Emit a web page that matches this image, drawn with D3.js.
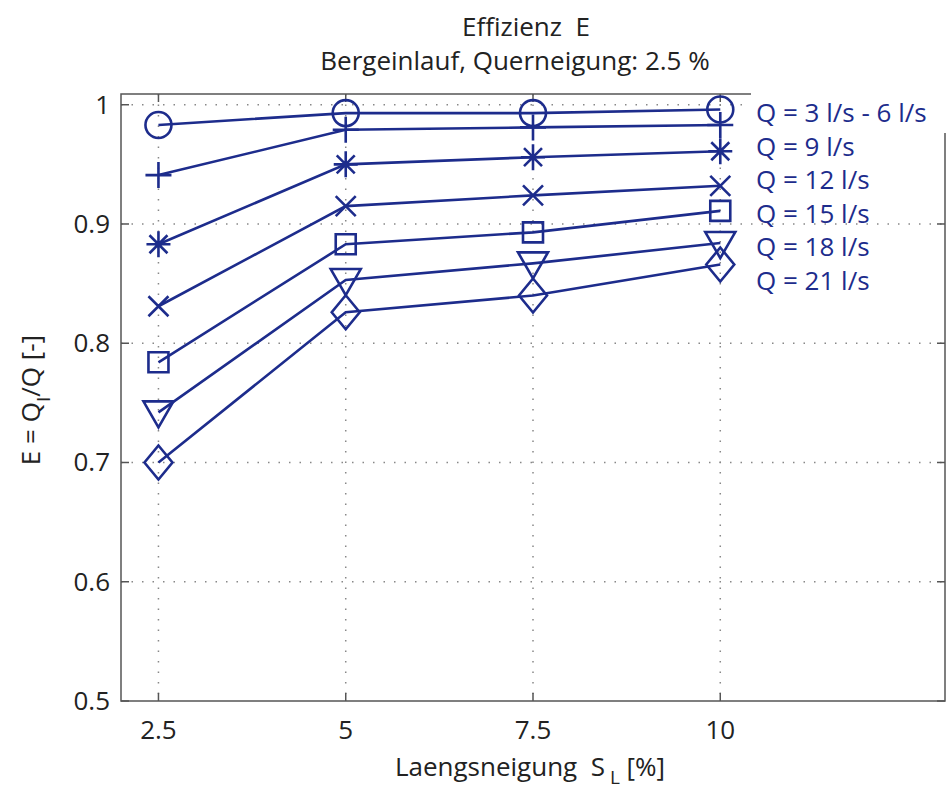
<!DOCTYPE html>
<html>
<head>
<meta charset="utf-8">
<script src="https://cdn.jsdelivr.net/npm/d3@7"></script>
<style>
  body { margin: 0; background: #fff; }
  text { font-family: "Open Sans", "Noto Sans", sans-serif; }
</style>
</head>
<body>
<script>
// data
var slopes = [2.5, 5, 7.5, 10];
var xTicks = [2.5, 5, 7.5, 10];
var yTicks = [0.5, 0.6, 0.7, 0.8, 0.9, 1];

var q3to6 = [0.983, 0.993, 0.993, 0.996];
var q3to6b = [0.941, 0.979, 0.981, 0.983];
var q9 = [0.883, 0.950, 0.956, 0.961];
var q12 = [0.831, 0.915, 0.924, 0.932];
var q15 = [0.784, 0.883, 0.893, 0.911];
var q18 = [0.742, 0.853, 0.867, 0.884];
var q21 = [0.700, 0.826, 0.840, 0.866];

var seriesMarkers = ["circle", "plus", "star", "cross", "square", "triangle", "diamond"];
var seriesValues = [q3to6, q3to6b, q9, q12, q15, q18, q21];
var labels = ["Q = 3 l/s - 6 l/s", "Q = 9 l/s", "Q = 12 l/s", "Q = 15 l/s", "Q = 18 l/s", "Q = 21 l/s"];

var W = 952, H = 792;
var pL = 121, pR = 945, pT = 94, pB = 701;
var blue = "#1d2c8c";

var svg = d3.select("body").append("svg")
    .attr("width", W)
    .attr("height", H);

var x = d3.scaleLinear().domain([2, 13]).range([pL, pR]);
var y = d3.scaleLinear().domain([0.5, 1.009]).range([pB, pT]);

// grid
svg.append("g").selectAll("line")
    .data(xTicks).enter().append("line")
    .attr("x1", d => x(d)).attr("x2", d => x(d))
    .attr("y1", pT).attr("y2", pB)
    .attr("stroke", "#888").attr("stroke-width", 1.5)
    .attr("stroke-dasharray", "1.5,9");
svg.append("g").selectAll("line")
    .data(yTicks.slice(1)).enter().append("line")
    .attr("x1", pL).attr("x2", pR)
    .attr("y1", d => y(d)).attr("y2", d => y(d))
    .attr("stroke", "#888").attr("stroke-width", 1.5)
    .attr("stroke-dasharray", "1.5,9");

// frame
svg.append("rect")
    .attr("x", pL).attr("y", pT)
    .attr("width", pR - pL).attr("height", pB - pT)
    .attr("fill", "none").attr("stroke", "#555").attr("stroke-width", 1.5);

// ticks inside, on all four sides
var tickLen = 8;
var tk = svg.append("g").attr("stroke", "#555").attr("stroke-width", 1.5);
xTicks.forEach(function(t) {
    tk.append("line").attr("x1", x(t)).attr("x2", x(t)).attr("y1", pB).attr("y2", pB - tickLen);
    tk.append("line").attr("x1", x(t)).attr("x2", x(t)).attr("y1", pT).attr("y2", pT + tickLen);
});
yTicks.forEach(function(t) {
    tk.append("line").attr("x1", pL).attr("x2", pL + tickLen).attr("y1", y(t)).attr("y2", y(t));
    tk.append("line").attr("x1", pR).attr("x2", pR - tickLen).attr("y1", y(t)).attr("y2", y(t));
});

// tick labels
svg.append("g").selectAll("text")
    .data(xTicks).enter().append("text")
    .attr("x", d => x(d)).attr("y", pB + 38)
    .attr("text-anchor", "middle")
    .attr("font-size", 26).attr("fill", "#222")
    .text(d => d);
svg.append("g").selectAll("text")
    .data(yTicks).enter().append("text")
    .attr("x", pL - 11).attr("y", d => y(d) + 9)
    .attr("text-anchor", "end")
    .attr("font-size", 26).attr("fill", "#222")
    .text(d => d);

// marker shapes (MATLAB style)
function markerPath(kind) {
    var p = d3.path();
    if (kind == "circle") {
        p.arc(0, 0, 13, 0, 2 * Math.PI);
    } else if (kind == "plus") {
        p.moveTo(-13, 0); p.lineTo(13, 0);
        p.moveTo(0, -13); p.lineTo(0, 13);
    } else if (kind == "star") {
        p.moveTo(-12, 0); p.lineTo(12, 0);
        p.moveTo(0, -13); p.lineTo(0, 13);
        p.moveTo(-9, -9); p.lineTo(9, 9);
        p.moveTo(-9, 9); p.lineTo(9, -9);
    } else if (kind == "cross") {
        p.moveTo(-10, -10); p.lineTo(10, 10);
        p.moveTo(-10, 10); p.lineTo(10, -10);
    } else if (kind == "square") {
        p.rect(-10, -10, 20, 20);
    } else if (kind == "triangle") {
        p.moveTo(-15, -11); p.lineTo(15, -11); p.lineTo(0, 15); p.closePath();
    } else if (kind == "diamond") {
        p.moveTo(0, -17); p.lineTo(14, 0); p.lineTo(0, 17); p.lineTo(-14, 0); p.closePath();
    }
    return p.toString();
}

var line = d3.line()
    .x((d, i) => x(slopes[i]))
    .y(d => y(d));

seriesValues.forEach(function(vals, k) {
    var g = svg.append("g");
    g.append("path")
        .attr("d", line(vals))
        .attr("fill", "none")
        .attr("stroke", blue)
        .attr("stroke-width", 2.6);
    g.selectAll("path.m")
        .data(vals).enter().append("path")
        .attr("class", "m")
        .attr("transform", (d, i) => "translate(" + x(slopes[i]) + "," + y(d) + ")")
        .attr("d", markerPath(seriesMarkers[k]))
        .attr("fill", "none")
        .attr("stroke", blue)
        .attr("stroke-width", 2.6);
});

// label box covers the frame corner
svg.append("rect")
    .attr("x", 751).attr("y", 86)
    .attr("width", W - 751).attr("height", 47)
    .attr("fill", "#fff");

svg.append("g").selectAll("text")
    .data(labels).enter().append("text")
    .attr("x", 756)
    .attr("y", (d, i) => 122 + i * 33.6)
    .attr("font-size", 26)
    .attr("fill", blue)
    .text(d => d);

// titles
svg.append("text")
    .attr("x", 526).attr("y", 36)
    .attr("text-anchor", "middle")
    .attr("font-size", 26).attr("fill", "#222")
    .attr("xml:space", "preserve")
    .text("Effizienz  E");
svg.append("text")
    .attr("x", 515).attr("y", 70)
    .attr("text-anchor", "middle")
    .attr("font-size", 26).attr("fill", "#222")
    .text("Bergeinlauf, Querneigung: 2.5 %");

// x label with subscript
var xl = svg.append("text")
    .attr("x", 530).attr("y", 776)
    .attr("text-anchor", "middle")
    .attr("font-size", 26).attr("fill", "#222")
    .attr("xml:space", "preserve");
xl.append("tspan").text("Laengsneigung  S");
xl.append("tspan").attr("dy", 8).attr("font-size", 19).text(" L");
xl.append("tspan").attr("dy", -8).text(" [%]");

// y label with subscript
var yl = svg.append("text")
    .attr("transform", "translate(40," + 400 + ") rotate(-90)")
    .attr("text-anchor", "middle")
    .attr("font-size", 26).attr("fill", "#222");
yl.append("tspan").text("E = Q");
yl.append("tspan").attr("dy", 10).attr("font-size", 19).text("I");
yl.append("tspan").attr("dy", -10).text("/Q [-]");
</script>
</body>
</html>
